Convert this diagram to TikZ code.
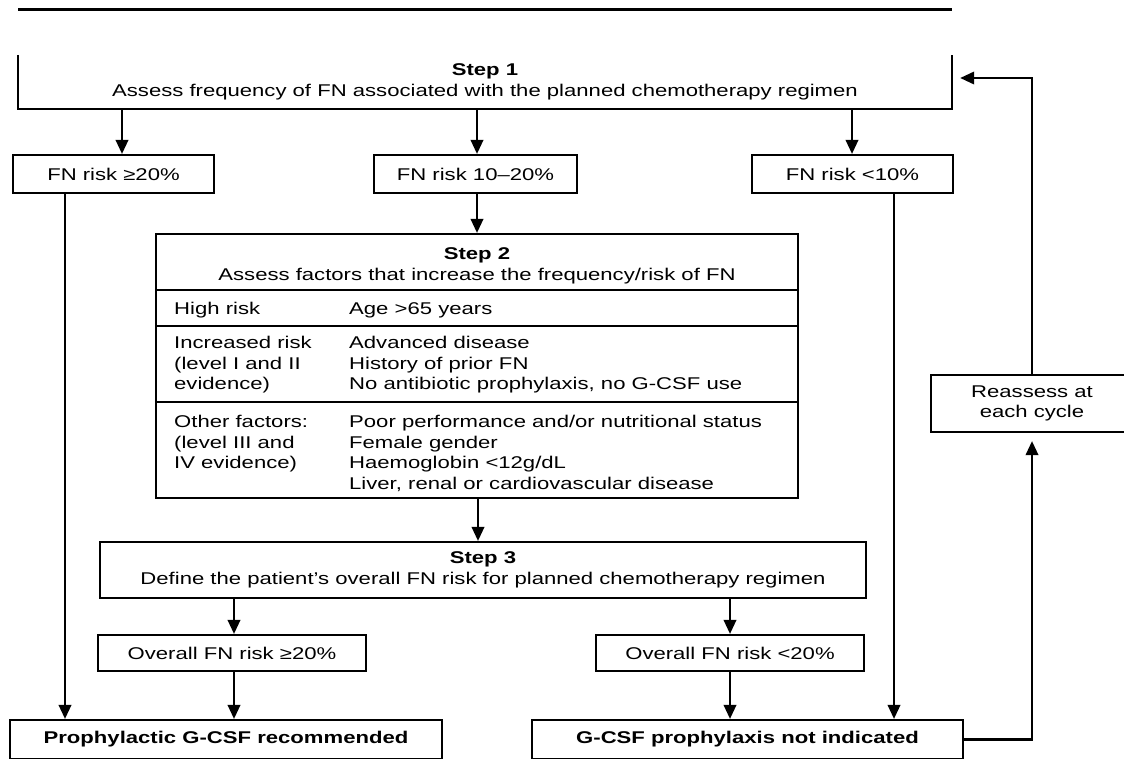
\documentclass[tikz,border=0pt]{standalone}
\usepackage{fontspec}
\setmainfont{Liberation Sans}[FakeStretch=1.3]
\usetikzlibrary{arrows.meta}
\newcommand{\fsz}{\fontsize{17}{20.7}\selectfont}
\begin{document}
\begin{tikzpicture}[x=1pt,y=-1pt,
  box/.style={draw, line width=2.2pt, inner sep=0pt, font=\fsz, align=center},
  plain/.style={inner sep=0pt, font=\fsz, align=left},
  arr/.style={line width=2.1pt, -{Triangle[length=14pt,width=12.5pt]}},
  rulestyle/.style={line width=2.2pt}]
\useasboundingbox (0,0) rectangle (1124,758);
\clip (0,0) rectangle (1124,758);
\fill[white] (0,0) rectangle (1124,758);

% column / row helpers
\coordinate (ca) at (122,0);
\coordinate (cb) at (477,0);
\coordinate (cc) at (852,0);
\coordinate (cl) at (65,0);
\coordinate (cr) at (894,0);
\coordinate (cm) at (478,0);
\coordinate (co1) at (234,0);
\coordinate (co2) at (730,0);
\coordinate (cy) at (0,78);
\coordinate (y1) at (0,290);
\coordinate (y2) at (0,326);
\coordinate (y3) at (0,402);

% header rule
\draw[line width=3.2pt] (18,9.5) -- (952,9.5);

% Step 1 (top cut off)
\node[inner sep=0pt, minimum width=934pt, minimum height=54pt, font=\fsz, align=center] (s1) at (485,82)
  {\textbf{Step 1}\\Assess frequency of FN associated with the planned chemotherapy regimen};
\draw[rulestyle] (s1.north west) -- (s1.south west) -- (s1.south east) -- (s1.north east);

% risk boxes
\node[box, minimum width=201pt, minimum height=38pt] (r1) at (113.5,174) {FN risk ≥20\%};
\node[box, minimum width=203pt, minimum height=38pt] (r2) at (475.5,174) {FN risk 10–20\%};
\node[box, minimum width=201pt, minimum height=38pt] (r3) at (852.5,174) {FN risk <10\%};

% Step 2
\node[box, minimum width=642pt, minimum height=264pt] (s2) at (477,366) {};
\node[plain, align=center] (s2t) at (477,265.5)
  {\textbf{Step 2}\\Assess factors that increase the frequency/risk of FN};
\draw[rulestyle] (s2.west |- y1) -- (s2.east |- y1);
\draw[rulestyle] (s2.west |- y2) -- (s2.east |- y2);
\draw[rulestyle] (s2.west |- y3) -- (s2.east |- y3);
\node[plain, anchor=north west] (c1) at (174,302) {High risk};
\node[plain, anchor=north west] (d1) at (349,302) {Age >65 years};
\node[plain, anchor=north west] (c2) at (174,336) {Increased risk\\(level I and II\\evidence)};
\node[plain, anchor=north west] (d2) at (349,336) {Advanced disease\\History of prior FN\\No antibiotic prophylaxis, no G-CSF use};
\node[plain, anchor=north west] (c3) at (174,415) {Other factors:\\(level III and\\IV evidence)};
\node[plain, anchor=north west] (d3) at (349,415) {Poor performance and/or nutritional status\\Female gender\\Haemoglobin <12g/dL\\Liver, renal or cardiovascular disease};

% Step 3
\node[box, minimum width=766pt, minimum height=56pt] (s3) at (483,570)
  {\textbf{Step 3}\\Define the patient’s overall FN risk for planned chemotherapy regimen};

\node[box, minimum width=268pt, minimum height=36pt] (o1) at (232,653) {Overall FN risk ≥20\%};
\node[box, minimum width=268pt, minimum height=36pt] (o2) at (730,653) {Overall FN risk <20\%};

% outcomes (bottom cut off)
\node[box, minimum width=432pt, minimum height=39pt, font=\fsz\bfseries] (b1) at (226,739.5) {Prophylactic G-CSF recommended};
\node[box, minimum width=431pt, minimum height=39pt, font=\fsz\bfseries] (b2) at (747.5,739.5) {G-CSF prophylaxis not indicated};

% reassess (right side cut off)
\node[box, minimum width=202pt, minimum height=57pt] (re) at (1032,403.5) {Reassess at\\each cycle};

% connectors
\draw[arr] (s1.south -| ca) -- (r1.north -| ca);
\draw[arr] (s1.south -| cb) -- (r2.north -| cb);
\draw[arr] (s1.south -| cc) -- (r3.north -| cc);
\draw[arr] (r2.south -| cb) -- (s2.north -| cb);
\draw[arr] (r1.south -| cl) -- (b1.north -| cl);
\draw[arr] (r3.south -| cr) -- (b2.north -| cr);
\draw[arr] (s2.south -| cm) -- (s3.north -| cm);
\draw[arr] (s3.south -| co1) -- (o1.north -| co1);
\draw[arr] (o1.south -| co1) -- (b1.north -| co1);
\draw[arr] (s3.south -| co2) -- (o2.north -| co2);
\draw[arr] (o2.south -| co2) -- (b2.north -| co2);
\draw[arr, shorten >=8pt] (b2.east) -| (re.south);
\draw[arr, shorten >=8pt] (re.north) |- (s1.east |- cy);
\end{tikzpicture}
\end{document}
